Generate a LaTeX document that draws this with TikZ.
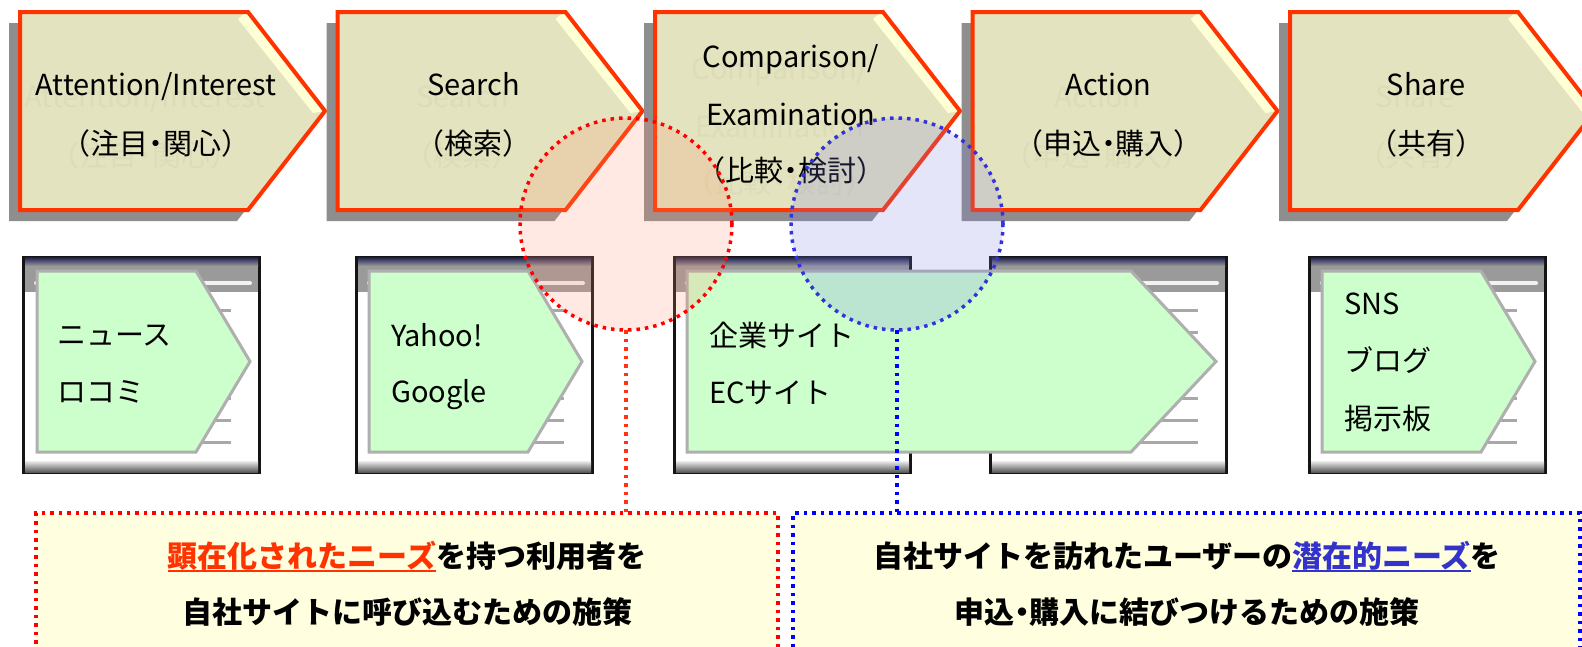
\documentclass[tikz,border=0pt]{standalone}
\usepackage{fontspec}
\setmainfont{Noto Sans CJK JP}
\newcommand\nd{{\addfontfeatures{RawFeature=+palt}・}}
\definecolor{chevfill}{HTML}{E3E3BF}
\definecolor{chevlight}{HTML}{FFFFD6}
\definecolor{chevred}{HTML}{FF3300}
\definecolor{shadowgray}{HTML}{8E8E8E}
\definecolor{ghost}{HTML}{DCDCB8}
\definecolor{greenfill}{HTML}{CCFFCC}
\definecolor{greenline}{HTML}{AFAFAF}
\definecolor{boxfill}{HTML}{FFFFE0}
\definecolor{hlred}{HTML}{FF3300}
\definecolor{hlblue}{HTML}{3333CC}
\definecolor{navy}{HTML}{1C1C4E}
\definecolor{wingray}{HTML}{9A9A9A}
\definecolor{winline}{HTML}{A8A8A8}
\definecolor{redtint}{HTML}{FF916E}
\definecolor{bluetint}{HTML}{7D7DE6}
\definecolor{circred}{HTML}{FF0000}
\definecolor{circblue}{HTML}{3333DD}
\definecolor{conred}{HTML}{FF3311}
\definecolor{conblue}{HTML}{0000FF}
\newcommand\myul[2]{\setbox0\hbox{\textcolor{#1}{#2}}\rlap{\textcolor{#1}{\rule[-5pt]{\wd0}{2.5pt}}}\box0}
\newcommand\topchev[1]{%
 \begin{scope}[shift={(#1,0)}]
  \fill[shadowgray] (-11,23) -- (217,23) -- (294,122) -- (217,221) -- (-11,221) -- cycle;
  \fill[chevfill] (0,12) -- (228,12) -- (305,111) -- (228,210) -- (0,210) -- cycle;
  \fill[chevlight] (226,12) -- (305,111) -- (293,113) -- (218,19) -- cycle;
  \draw[chevred, line width=4, line join=miter] (0,12) -- (228,12) -- (305,111) -- (228,210) -- (0,210) -- cycle;
 \end{scope}}
\newcommand\browser[1]{%
 \begin{scope}[shift={(#1,256)}]
  \fill[black!92] (0,0) rectangle (239,218);
  \shade[top color=navy, bottom color=wingray] (3,1) rectangle (236,10);
  \fill[wingray] (3,10) rectangle (236,36);
  \draw[white!90!gray, line width=4, line cap=round] (14,27) -- (228,27);
  \fill[white] (3,36) rectangle (236,205);
  \shade[top color=white!85!gray, bottom color=black!65] (3,205) rectangle (236,216);
  \foreach \k in {0,...,6} \draw[winline, line width=3] (151,54+22*\k) -- (209,54+22*\k);
 \end{scope}}
\newcommand\greenchev[3]{%
  \filldraw[fill=greenfill, draw=greenline, line width=3, line join=miter] (#1,271) -- (#2,271) -- (#3,361.5) -- (#2,452) -- (#1,452) -- cycle;}
\tikzset{
 toptext/.style={anchor=base, font=\fontsize{29}{35}\selectfont, inner sep=0},
 ghosttext/.style={toptext, text=ghost},
 gtext/.style={anchor=base west, font=\fontsize{29}{35}\selectfont, inner sep=0},
 btext/.style={anchor=base, font=\fontsize{30}{36}\selectfont\bfseries, inner sep=0},
 dots/.style={line width=3.5, dash pattern=on 3.5 off 5},
 zone/.style={circle, minimum size=212, inner sep=0, outer sep=0, fill opacity=0.2, dots},
 infobox/.style={anchor=north west, minimum width=742, minimum height=140, inner sep=0, outer sep=0, fill=boxfill, dots}
}
\begin{document}
\begin{tikzpicture}[x=1pt,y=-1pt]
\useasboundingbox (0,0) rectangle (1582,646);
\fill[white] (0,0) rectangle (1582,646);
% top chevrons
\topchev{20}
\topchev{337.5}
\topchev{655}
\topchev{972.5}
\topchev{1290}
% ghost (shadow) texts
\node[ghosttext] (g1a) at (145,107) {Attention/Interest};
\node[ghosttext] (g1b) at (145,166) {（注目\nd 関心）};
\node[ghosttext] (g2a) at (462.5,107) {Search};
\node[ghosttext] (g2b) at (462.5,166) {（検索）};
\node[ghosttext] (g3a) at (780,79) {Comparison/};
\node[ghosttext] (g3b) at (780,137) {Examination};
\node[ghosttext] (g3c) at (780,193) {（比較\nd 検討）};
\node[ghosttext] (g4a) at (1097.5,107) {Action};
\node[ghosttext] (g4b) at (1097.5,166) {（申込\nd 購入）};
\node[ghosttext] (g5a) at (1415,107) {Share};
\node[ghosttext] (g5b) at (1415,166) {（共有）};
% texts
\node[toptext] (t1a) at (156,95) {Attention/Interest};
\node[toptext] (t1b) at (156,154) {（注目\nd 関心）};
\node[toptext] (t2a) at (473.5,95) {Search};
\node[toptext] (t2b) at (473.5,154) {（検索）};
\node[toptext] (t3a) at (791,67) {Comparison/};
\node[toptext] (t3b) at (791,125) {Examination};
\node[toptext] (t3c) at (791,181) {（比較\nd 検討）};
\node[toptext] (t4a) at (1108.5,95) {Action};
\node[toptext] (t4b) at (1108.5,154) {（申込\nd 購入）};
\node[toptext] (t5a) at (1426,95) {Share};
\node[toptext] (t5b) at (1426,154) {（共有）};
% browser windows
\browser{22}
\browser{355}
\browser{673}
\browser{989}
\browser{1308}
% green chevrons
\greenchev{37}{196}{250}
\greenchev{369}{528}{582}
\greenchev{687}{1131}{1216}
\greenchev{1322}{1481}{1535}
\node[gtext] (n1a) at (57,345) {ニュース};
\node[gtext] (n1b) at (57,402) {ロコミ};
\node[gtext] (n2a) at (391,346) {Yahoo!};
\node[gtext] (n2b) at (391,402) {Google};
\node[gtext] (n3a) at (709,346) {企業サイト};
\node[gtext] (n3b) at (709,403) {ECサイト};
\node[gtext] (n5a) at (1344,314) {SNS};
\node[gtext] (n5b) at (1344,371) {ブログ};
\node[gtext] (n5c) at (1344,429) {掲示板};
% zones
\node[zone, fill=redtint, draw=circred] (redc) at (626,224) {};
\node[zone, fill=bluetint, draw=circblue] (bluec) at (897,224) {};
% boxes
\node[infobox, draw=circred] (redbox) at (36,513) {};
\node[infobox, minimum width=787, draw=conblue] (bluebox) at (793,513) {};
\draw[dots, conred] (redc.south) -- (redc.south |- redbox.north);
\draw[dots, conblue] (bluec.south) -- (bluec.south |- bluebox.north);
\node[btext] (r1) at (407,567) {\myul{hlred}{顕在化されたニーズ}を持つ利用者を};
\node[btext] (r2) at (407,623) {自社サイトに呼び込むための施策};
\node[btext] (b1) at (1187,567) {自社サイトを訪れたユーザーの\myul{hlblue}{潜在的ニーズ}を};
\node[btext] (b2) at (1187,623) {申込\nd 購入に結びつけるための施策};
\end{tikzpicture}
\end{document}
